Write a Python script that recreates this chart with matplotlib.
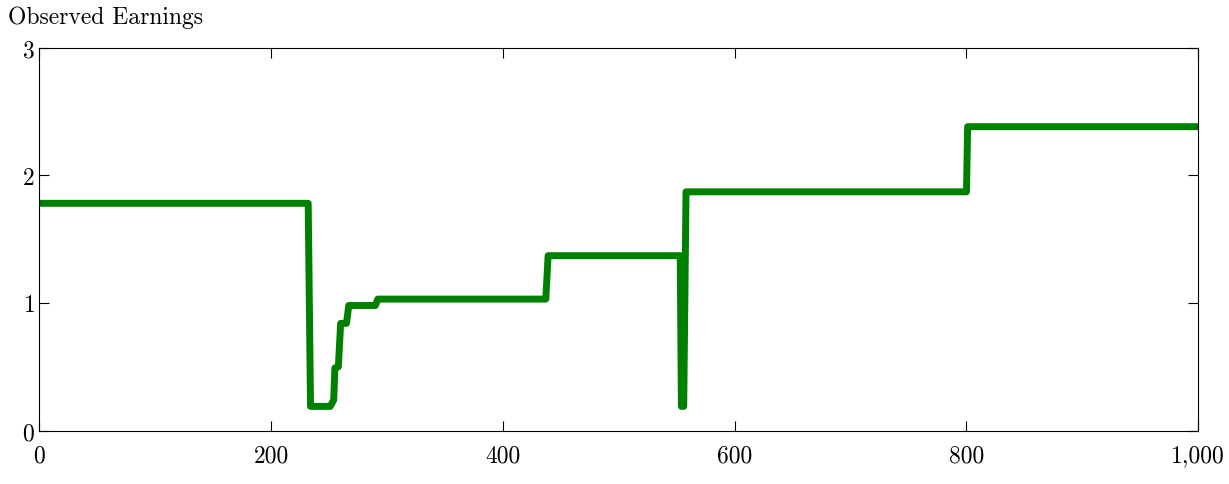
import matplotlib
matplotlib.use("Agg")
import matplotlib.pyplot as plt

x_vals = [0, 232, 234, 251, 254, 255, 258, 260, 265, 267, 290, 292, 437, 439,
          553, 554, 556, 558, 800, 801, 1000]
y_vals = [1.78, 1.78, 0.19, 0.19, 0.24, 0.49, 0.50, 0.84, 0.84, 0.98, 0.98, 1.03, 1.03, 1.37,
          1.37, 0.19, 0.19, 1.87, 1.87, 2.38, 2.38]
x_ticks = [0, 200, 400, 600, 800, 1000]
x_labels = ["0", "200", "400", "600", "800", "1,000"]
y_ticks = [0, 1, 2, 3]

plt.rcParams['font.family'] = 'serif'
plt.rcParams['font.serif'] = ['cmr10', 'DejaVu Serif']
plt.rcParams['axes.formatter.use_mathtext'] = True

fig = plt.figure(figsize=(12.29, 4.85), dpi=100)
ax = fig.add_axes([0.032, 0.11, 0.943, 0.79])
ax.plot(x_vals, y_vals, color='#008000', linewidth=5,
        solid_joinstyle='round', solid_capstyle='round')
ax.set_xlim(0, 1000)
ax.set_ylim(0, 3)
ax.set_xticks(x_ticks)
ax.set_xticklabels(x_labels)
ax.set_yticks(y_ticks)
ax.tick_params(direction='in', top=True, right=True, labelsize=17, length=7)
ax.tick_params(axis='x', pad=10)
ax.text(-0.027, 1.05, "Observed Earnings", transform=ax.transAxes, fontsize=17, ha='left', va='bottom')
fig.savefig("out.png")
